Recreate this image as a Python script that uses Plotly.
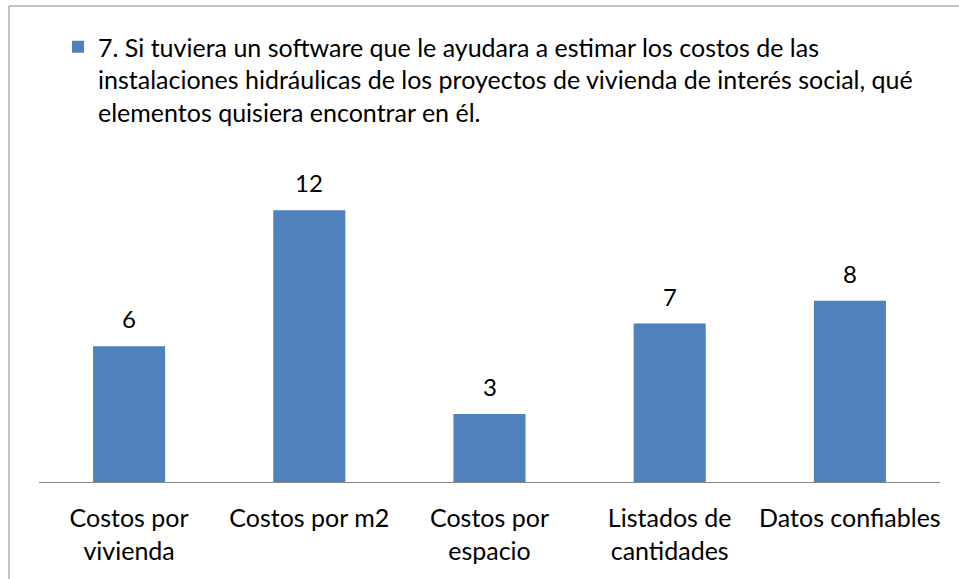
import plotly.graph_objects as go

categories = ["Costos por<br>vivienda", "Costos por m2", "Costos por<br>espacio", "Listados de<br>cantidades", "Datos confiables"]
values = [6, 12, 3, 7, 8]
series_name = ("7. Si tuviera un software que le ayudara a estimar los costos de las<br>"
               "instalaciones hidráulicas de los proyectos de vivienda de interés social, qué<br>"
               "elementos quisiera encontrar en él.")

FONT = "Lato"
FS = 25
W, H = 959, 579
L, R, T, B = 39, 19, 165, 97
pw = W - L - R
ph = H - T - B

def px_x(x):
    return (x - L) / pw

def px_y(y):
    return (H - B - y) / ph

fig = go.Figure()
fig.add_trace(go.Bar(
    x=categories, y=values, name=series_name,
    marker=dict(color="#4F81BD", line=dict(width=0)),
    width=0.4, showlegend=True,
))

for c, v in zip(categories, values):
    fig.add_annotation(x=c, y=v, text=str(v), showarrow=False,
                       yanchor="bottom", yshift=11,
                       font=dict(family=FONT, size=FS - 1, color="#000000"))

fig.add_shape(type="rect", xref="paper", yref="paper",
              x0=px_x(9), x1=px_x(W + 50), y0=px_y(H + 50), y1=px_y(6),
              line=dict(color="#868686", width=1), fillcolor="rgba(0,0,0,0)", layer="below")

fig.update_layout(
    width=W, height=H,
    margin=dict(l=L, r=R, t=T, b=B, autoexpand=False),
    paper_bgcolor="white", plot_bgcolor="white",
    font=dict(family=FONT, size=FS, color="#000000"),
    xaxis=dict(showline=True, linecolor="#868686", linewidth=1, ticks="",
               ticklabelstandoff=14,
               showgrid=False, zeroline=False, tickfont=dict(size=FS, color="#000000")),
    yaxis=dict(range=[0, 14], visible=False, showgrid=False, zeroline=False),
    showlegend=True,
    legend=dict(x=px_x(58), y=px_y(24), xanchor="left", yanchor="top",
                valign="top", font=dict(family=FONT, size=FS, color="#000000"),
                bgcolor="rgba(0,0,0,0)"),
)

fig.write_html("out.html", config={"displayModeBar": False},
               post_script="document.body.style.margin='0';")
